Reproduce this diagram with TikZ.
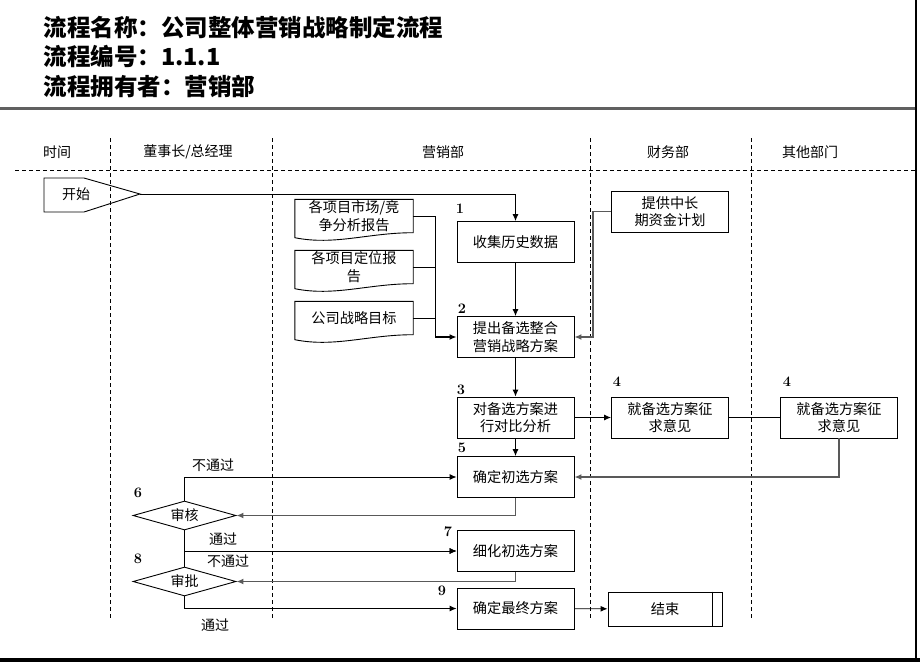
\documentclass[tikz,border=0pt]{standalone}
\usepackage{fontspec}
\usepackage{tikz}
\usetikzlibrary{positioning,arrows.meta,calc,shapes}
\newfontfamily\cjk{Noto Sans CJK SC}

\begin{document}
\begin{tikzpicture}[
  x=1pt, y=-1pt,
  box/.style={draw, line width=0.9pt, minimum width=117pt, minimum height=41pt, align=center, inner sep=1pt, font=\cjk\fontsize{14.2}{17.5}\selectfont},
  doc/.style={minimum width=118pt, minimum height=33pt, align=center, inner sep=0pt, font=\cjk\fontsize{14.2}{17.5}\selectfont},
  check/.style={draw, diamond, aspect=3.5, minimum width=103pt, minimum height=29pt, inner sep=0pt, line width=0.9pt, font=\cjk\fontsize{14}{16}\selectfont},
  lbl/.style={font=\cjk\fontsize{14}{16}\selectfont, inner sep=0pt},
  num/.style={font=\bfseries\fontsize{14.5}{14.5}\selectfont, inner sep=0pt},
  conn/.style={line width=0.9pt},
  arr/.style={line width=0.9pt, -{Latex[length=7pt,width=6pt]}},
  grayarr/.style={arr, line width=1.3pt, gray!70!black},
  laneline/.style={dash pattern=on 4pt off 3pt, line width=0.8pt}
]
  \useasboundingbox (0,0) rectangle (920,662);

  % Frame
  \draw[line width=3pt, gray!75!black] (0,108) -- (916,108);
  \draw[line width=2pt] (916,0) -- (916,662);
  \draw[line width=3.5pt] (0,660) -- (920,660);

  % Title
  \node[anchor=west, font=\cjk\bfseries\fontsize{23.5}{23.5}\selectfont] (title) at (40,27) {流程名称：公司整体营销战略制定流程};
  \node[anchor=west, font=\cjk\bfseries\fontsize{23.5}{23.5}\selectfont] (code) at (40,56) {流程编号：1.1.1};
  \node[anchor=west, font=\cjk\bfseries\fontsize{23.5}{23.5}\selectfont] (owner) at (40,86) {流程拥有者：营销部};

  % Lanes
  \foreach \x/\txt [count=\i] in {57/时间, 188/{董事长/总经理}, 443/营销部, 668/财务部, 810/其他部门} {
    \node[lbl] (lane\i) at (\x,152) {\txt};
  }
  \draw[laneline] (15,170) -- (916,170);
  \foreach \x in {110,272,590,751} {
    \draw[laneline] (\x,138) -- (\x,618);
  }

  % Start
  \node[lbl] (start) at (76,194) {开始};
  \coordinate (tip) at (140,194);
  \draw[conn] (44,178) -- (84,178) -- (tip) -- (84,212) -- (44,212) -- cycle;

  % Documents
  \node[doc] (r1) at (354,216) {各项目市场/竞\\争分析报告};
  \node[doc] (r2) at (354,267) {各项目定位报\\告};
  \node[doc] (r3) at (354,318) {公司战略目标};
  \foreach \d in {r1,r2,r3} {
    \draw[conn] (\d.north east) -- (\d.north west) -- ($(\d.south west)+(0,5)$)
      .. controls +(40,8) and +(-45,0) .. (\d.south east) -- cycle;
  }

  % Steps
  \node[box] (s1) at (515.5,242) {收集历史数据};
  \node[box] (s2) at (515.5,337) {提出备选整合\\营销战略方案};
  \node[box] (fin) at (670,211.5) {提供中长\\期资金计划};
  \node[box] (s3) at (515.5,417.5) {对备选方案进\\行对比分析};
  \node[box] (s4a) at (670,417.5) {就备选方案征\\求意见};
  \node[box] (s4b) at (839,417.5) {就备选方案征\\求意见};
  \node[box] (s5) at (515.5,477) {确定初选方案};
  \node[check] (d6) at (184.5,515.5) {审核};
  \node[box] (s7) at (515.5,551) {细化初选方案};
  \node[check] (d8) at (184.5,581.5) {审批};
  \node[box] (s9) at (515.5,608.5) {确定最终方案};
  \node[box, minimum width=114pt, minimum height=34pt] (stop) at (665,609) {结束};
  \draw[conn] ([xshift=-10pt]stop.north east) -- ([xshift=-10pt]stop.south east);

  % Step numbers
  \foreach \k/\x/\y/\t in {1/460/209/1, 2/462/309/2, 3/461/390/3, 4a/617/382/4, 4b/787/382/4,
                           5/462/448/5, 6/138/493/6, 7/448/532/7, 8/138/559/8, 9/442/591/9} {
    \node[num] (n\k) at (\x,\y) {\t};
  }

  % Decision labels
  \node[lbl] (no1) at (213,465) {不通过};
  \node[lbl] (yes1) at (223,539) {通过};
  \node[lbl] (no2) at (228,561) {不通过};
  \node[lbl] (yes2) at (215,625) {通过};

  % Connectors
  \draw[arr] (tip) -| (s1.north);
  \draw[arr] (s1) -- (s2);
  \coordinate (join) at (435,337);
  \foreach \d in {r1,r2,r3} {
    \draw[conn] (\d.east) -| (join);
  }
  \draw[arr, line width=1.3pt] (join) -- (s2.west);
  \draw[grayarr] (fin.west) -- ++(-18,0) |- (s2.east);
  \draw[arr] (s2) -- (s3);
  \draw[arr] (s3) -- (s4a);
  \draw[conn] (s4a) -- (s4b);
  \draw[grayarr] (s4b.south) |- (s5.east);
  \draw[arr] (s3) -- (s5);
  \draw[grayarr] (s5.south) |- (d6.east);
  \draw[arr] (d6.north) |- (s5.west);
  \draw[arr] (d6.south) |- (s7.west);
  \draw[arr] (d8.north) |- (s7.west);
  \draw[grayarr] (s7.south) |- (d8.east);
  \draw[arr] (d8.south) |- (s9.west);
  \draw[arr] (s9) -- (stop);
\end{tikzpicture}
\end{document}
